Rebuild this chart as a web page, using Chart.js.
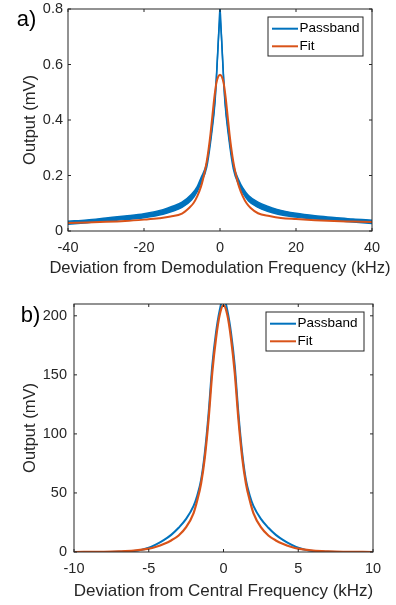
<!DOCTYPE html>
<html>
<head>
<meta charset="utf-8">
<script src="https://cdn.jsdelivr.net/npm/chart.js@4.4.1/dist/chart.umd.min.js"></script>
<style>
  html, body { margin: 0; padding: 0; background: #fff; overflow: hidden; }
  .panel { position: absolute; left: 0; width: 396px; }
  #wrapA { top: 0; height: 300px; }
  #wrapB { top: 300px; height: 305px; }
</style>
</head>
<body>
<div class="panel" id="wrapA"><canvas id="chartA"></canvas></div>
<div class="panel" id="wrapB"><canvas id="chartB"></canvas></div>
<script>
const BLUE = '#0072BD';
const ORANGE = '#D95319';
const INK = '#262626';
const FONT = "'Liberation Sans', Arial, Helvetica, sans-serif";

// ---- (a) demodulated passband: noisy band drawn as upper / lower envelope ----
const freqA = [-40, -35, -30, -25, -20, -15, -12.5, -10, -7.5, -6, -5, -3.5, -2.2, -1.3, -0.8, -0.35, -0.15, 0,
               0.15, 0.35, 0.8, 1.3, 2.2, 3.5, 5, 6, 7.5, 10, 12.5, 15, 20, 25, 30, 35, 40];
const passHighA = [0.035, 0.040, 0.047, 0.054, 0.062, 0.077, 0.089, 0.104, 0.132, 0.160, 0.192, 0.245, 0.362, 0.476, 0.594, 0.713, 0.763, 0.813,
                   0.763, 0.713, 0.592, 0.473, 0.358, 0.240, 0.182, 0.155, 0.128, 0.104, 0.089, 0.078, 0.064, 0.055, 0.049, 0.043, 0.039];
const passLowA  = [0.024, 0.030, 0.036, 0.041, 0.048, 0.060, 0.071, 0.085, 0.112, 0.142, 0.174, 0.229, 0.350, 0.466, 0.586, 0.707, 0.757, 0.807,
                   0.757, 0.707, 0.584, 0.463, 0.346, 0.224, 0.164, 0.137, 0.108, 0.085, 0.071, 0.061, 0.050, 0.043, 0.038, 0.032, 0.027];

const fitFreqA = [-40, -35, -30, -25, -20, -16, -13, -10, -8, -7, -6, -5, -4.5, -4, -3.5, -3, -2.5, -2, -1.5, -1, -0.5, 0,
                  0.5, 1, 1.5, 2, 2.5, 3, 3.5, 4, 4.5, 5, 6, 7, 8, 10, 13, 16, 20, 25, 30, 35, 40];
const fitA = [0.029, 0.031, 0.033, 0.036, 0.041, 0.046, 0.052, 0.063, 0.085, 0.100, 0.125, 0.160, 0.185, 0.215, 0.250, 0.295, 0.350, 0.415, 0.480, 0.530, 0.555, 0.563,
              0.555, 0.530, 0.480, 0.415, 0.350, 0.295, 0.250, 0.215, 0.185, 0.160, 0.125, 0.100, 0.084, 0.064, 0.054, 0.047, 0.043, 0.039, 0.036, 0.034, 0.032];

const xTicksA = [-40, -20, 0, 20, 40];
const xLabelsA = ['-40', '-20', '0', '20', '40'];
const yTicksA = [0, 0.2, 0.4, 0.6, 0.8];
const yLabelsA = ['0', '0.2', '0.4', '0.6', '0.8'];

// ---- (b) passband around the central frequency ----
const freqB = [-10, -8, -7, -6, -5.5, -5, -4.5, -4, -3.5, -3, -2.5, -2, -1.75, -1.5, -1.25, -1, -0.75, -0.5, -0.25, 0,
               0.25, 0.5, 0.75, 1, 1.25, 1.5, 1.75, 2, 2.5, 3, 3.5, 4, 4.5, 5, 5.5, 6, 7, 8, 10];
const passB = [0, 0.05, 0.2, 0.8, 1.8, 3.6, 6.5, 10, 14.5, 20.5, 28, 39, 48, 61, 84, 117, 158, 186, 205, 216,
               205, 186, 158, 117, 84, 61, 48, 39, 28, 20.5, 14.5, 10, 6.5, 3.6, 1.8, 0.8, 0.2, 0.05, 0];

const fitFreqB = [-10, -8, -7, -6, -5, -4.5, -4, -3.5, -3, -2.5, -2, -1.75, -1.5, -1.25, -1, -0.75, -0.5, -0.25, 0,
                  0.25, 0.5, 0.75, 1, 1.25, 1.5, 1.75, 2, 2.5, 3, 3.5, 4, 4.5, 5, 6, 7, 8, 10];
const fitB = [0, 0.15, 0.45, 1.1, 2.8, 4.5, 6.8, 9.8, 14, 21, 33, 44, 58, 80, 112, 152, 181, 201, 209,
              201, 181, 152, 112, 80, 58, 44, 33, 21, 14, 9.8, 6.8, 4.5, 2.8, 1.1, 0.45, 0.15, 0];

const xTicksB = [-10, -5, 0, 5, 10];
const xLabelsB = ['-10', '-5', '0', '5', '10'];
const yTicksB = [0, 50, 100, 150, 200];
const yLabelsB = ['0', '50', '100', '150', '200'];

const pts = (xs, ys) => xs.map((x, i) => ({ x, y: ys[i] }));

// box around the axes, inward tick marks, x title, boxed legend and panel letter
const frame = {
  id: 'frame',
  afterDatasetsDraw(chart, args, opts) {
    const { ctx, chartArea: a, scales: { x, y } } = chart;
    ctx.save();
    ctx.strokeStyle = INK;
    ctx.lineWidth = 1;
    ctx.strokeRect(a.left, a.top, a.right - a.left, a.bottom - a.top);

    ctx.beginPath();
    x.ticks.forEach(t => {
      const px = x.getPixelForValue(t.value);
      ctx.moveTo(px, a.bottom); ctx.lineTo(px, a.bottom - 3);
      ctx.moveTo(px, a.top);    ctx.lineTo(px, a.top + 3);
    });
    y.ticks.forEach(t => {
      const py = y.getPixelForValue(t.value);
      ctx.moveTo(a.left, py);  ctx.lineTo(a.left + 3, py);
      ctx.moveTo(a.right, py); ctx.lineTo(a.right - 3, py);
    });
    ctx.stroke();

    // x title is allowed to run past the plot edges
    ctx.font = opts.titleSize + 'px ' + FONT;
    ctx.fillStyle = INK;
    ctx.textAlign = 'center';
    ctx.textBaseline = 'middle';
    ctx.fillText(opts.xTitle, (a.left + a.right) / 2, opts.titleY);

    // legend
    const entries = chart.data.datasets.filter(d => d.label);
    const bx = a.right - opts.boxW - 9;
    const by = a.top + 8;
    ctx.fillStyle = '#fff';
    ctx.fillRect(bx, by, opts.boxW, 39);
    ctx.strokeStyle = INK;
    ctx.strokeRect(bx, by, opts.boxW, 39);
    ctx.font = '13.5px ' + FONT;
    ctx.textAlign = 'left';
    entries.forEach((d, i) => {
      const ry = by + 11.7 + i * 17.6;
      ctx.strokeStyle = d.borderColor;
      ctx.lineWidth = 2;
      ctx.beginPath();
      ctx.moveTo(bx + 4, ry); ctx.lineTo(bx + 30, ry);
      ctx.stroke();
      ctx.fillStyle = '#000';
      ctx.fillText(d.label, bx + 31.5, ry);
    });

    // panel letter
    ctx.font = '22px ' + FONT;
    ctx.textBaseline = 'alphabetic';
    ctx.fillStyle = '#000';
    ctx.fillText(opts.letter, opts.letterX, opts.letterY);
    ctx.restore();
  }
};

function axes(o) {
  return {
    x: {
      type: 'linear', min: o.xMin, max: o.xMax,
      afterBuildTicks: s => { s.ticks = o.xTicks.map(v => ({ value: v })); },
      afterFit: s => { s.height = o.xHeight; s.paddingLeft = 0; s.paddingRight = 0; },
      grid: { display: false, drawTicks: false },
      border: { display: false },
      ticks: { color: INK, font: { family: FONT, size: 14.5 }, padding: 8, maxRotation: 0, autoSkip: false,
               callback: (v, i) => o.xLabels[i] },
      title: { display: false }
    },
    y: {
      type: 'linear', min: o.yMin, max: o.yMax,
      afterBuildTicks: s => { s.ticks = o.yTicks.map(v => ({ value: v })); },
      afterFit: s => { s.width = o.yWidth; s.paddingTop = 0; s.paddingBottom = 0; },
      grid: { display: false, drawTicks: false },
      border: { display: false },
      ticks: { color: INK, font: { family: FONT, size: 14.5 }, padding: o.yPad, autoSkip: false,
               callback: (v, i) => o.yLabels[i] },
      title: { display: true, text: 'Output (mV)', color: INK, font: { family: FONT, size: 16.5 },
               padding: { top: 21, bottom: 0 } }
    }
  };
}

const lineStyle = { pointRadius: 0, cubicInterpolationMode: 'monotone', clip: 0 };

new Chart(document.getElementById('chartA'), {
  type: 'line',
  data: {
    datasets: [
      { label: 'Passband', data: pts(freqA, passHighA), borderColor: BLUE, backgroundColor: BLUE,
        borderWidth: 1.5, fill: '+1', order: 1, ...lineStyle },
      { data: pts(freqA, passLowA), borderColor: BLUE, backgroundColor: BLUE,
        borderWidth: 1.5, fill: false, order: 1, ...lineStyle },
      { label: 'Fit', data: pts(fitFreqA, fitA), borderColor: ORANGE,
        borderWidth: 2, fill: false, order: 0, ...lineStyle }
    ]
  },
  options: {
    responsive: true, maintainAspectRatio: false, animation: false,
    layout: { padding: { left: 0, top: 9, right: 24, bottom: 0 } },
    scales: axes({
      xMin: -40, xMax: 40, xTicks: xTicksA, xLabels: xLabelsA, xHeight: 69,
      yMin: 0, yMax: 0.8, yTicks: yTicksA, yLabels: yLabelsA, yWidth: 68, yPad: 5
    }),
    plugins: {
      legend: { display: false }, tooltip: { enabled: false },
      frame: { boxW: 95, letter: 'a)', letterX: 16.7, letterY: 26,
               xTitle: 'Deviation from Demodulation Frequency (kHz)', titleSize: 16.6, titleY: 268 }
    }
  },
  plugins: [frame]
});

new Chart(document.getElementById('chartB'), {
  type: 'line',
  data: {
    datasets: [
      { label: 'Passband', data: pts(freqB, passB), borderColor: BLUE,
        borderWidth: 2, fill: false, order: 1, ...lineStyle },
      { label: 'Fit', data: pts(fitFreqB, fitB), borderColor: ORANGE,
        borderWidth: 2.2, fill: false, order: 0, ...lineStyle }
    ]
  },
  options: {
    responsive: true, maintainAspectRatio: false, animation: false,
    layout: { padding: { left: 0, top: 4, right: 23, bottom: 0 } },
    scales: axes({
      xMin: -10, xMax: 10, xTicks: xTicksB, xLabels: xLabelsB, xHeight: 53,
      yMin: 0, yMax: 210, yTicks: yTicksB, yLabels: yLabelsB, yWidth: 74, yPad: 7
    }),
    plugins: {
      legend: { display: false }, tooltip: { enabled: false },
      frame: { boxW: 98, letter: 'b)', letterX: 20.7, letterY: 21.5,
               xTitle: 'Deviation from Central Frequency (kHz)', titleSize: 17, titleY: 291 }
    }
  },
  plugins: [frame]
});
</script>
</body>
</html>
